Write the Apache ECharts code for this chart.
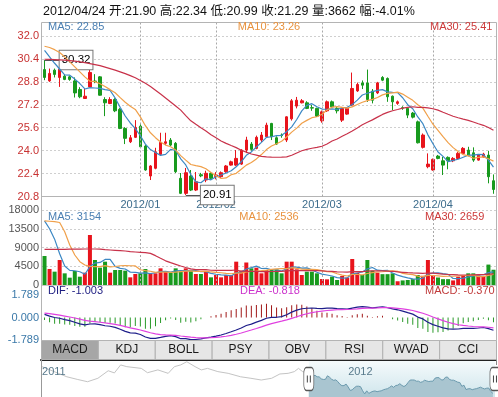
<!DOCTYPE html>
<html><head><meta charset="utf-8">
<script src="https://cdn.jsdelivr.net/npm/echarts@6/dist/echarts.min.js"></script>
<style>html,body{margin:0;padding:0;background:#fff}#c{width:498px;height:397px}</style>
</head><body><div id="c"></div>
<script>
// ---------------- data ----------------
const decDays = [6,7,8,9,12,13,14,15,16,19,20,21,22,23,26,27,28,29,30];
const janDays = [4,5,6,9,10,11,12,13,16,17,18,19,20,30,31];
const febDays = [1,2,3,6,7,8,9,10,13,14,15,16,17,20,21,22,23,24,27,28,29];
const marDays = [1,2,5,6,7,8,9,12,13,14,15,16,19,20,21,22,23,26,27,28,29,30];
const aprDays = [6,9,10,11,12,13,16,17,18,19,20,23,24];

// [open, close, low, high]
const ohlc = [
[29.66,29.11,28.92,30.32],[28.87,29.39,28.80,29.73],[29.62,29.32,29.11,29.73],[29.11,29.69,28.45,29.96],
[29.20,28.97,28.92,29.34],[29.15,28.97,28.88,29.23],[28.87,28.03,27.71,29.11],[28.27,27.76,27.66,28.43],
[27.64,27.80,27.63,28.36],[28.45,29.46,28.43,29.69],[28.86,28.82,28.71,29.34],[29.15,27.87,27.84,29.20],
[27.57,27.34,26.41,27.73],[27.29,27.57,27.25,27.73],[27.57,26.78,26.69,27.66],[26.88,25.55,25.50,26.97],
[25.55,24.86,24.46,25.64],[24.62,24.90,24.53,25.09],[24.93,25.62,24.88,26.13],[25.71,24.27,24.21,25.85],
[24.32,22.65,22.60,24.39],[22.23,22.93,21.95,22.99],[22.77,23.92,22.70,24.20],[23.74,24.58,23.70,25.25],
[24.51,24.62,24.39,25.25],[24.74,24.39,24.32,24.88],[24.51,22.53,22.44,24.60],[22.07,21.02,20.97,22.44],
[21.02,22.46,20.91,22.79],[22.23,21.25,21.18,22.65],[21.25,21.83,21.18,22.51],[22.32,22.24,22.15,22.45],
[21.95,22.42,21.80,22.60],[22.42,22.07,21.95,22.50],[22.20,22.30,22.00,22.50],[22.18,22.46,22.10,22.55],
[22.53,22.93,22.45,23.00],[22.99,23.22,22.95,23.30],[22.99,23.46,22.92,24.04],[23.06,24.04,23.00,24.10],
[24.04,24.74,23.83,24.97],[24.46,24.09,24.00,24.60],[24.16,24.93,24.10,25.05],[24.74,25.09,24.60,25.30],
[24.97,25.78,24.90,25.95],[25.90,24.97,24.74,25.94],[24.90,24.46,24.40,25.00],[25.09,25.05,24.90,25.20],
[24.74,26.36,24.60,26.40],[26.22,27.48,26.10,27.60],[27.11,27.52,26.95,27.75],[27.34,27.48,27.30,27.60],
[27.34,26.95,26.90,27.45],[27.00,26.97,26.78,27.20],[26.95,26.41,26.35,27.00],[26.08,26.71,25.95,26.80],
[26.78,27.41,26.70,27.50],[27.41,27.06,27.00,27.50],[26.95,26.78,26.60,27.05],[26.13,26.95,26.00,27.05],
[26.55,26.95,26.50,27.00],[27.18,28.34,27.10,29.45],[28.17,28.62,28.10,28.75],[28.73,28.57,28.30,28.90],
[28.73,27.57,27.40,29.66],[28.15,27.52,27.30,28.30],[28.03,28.73,27.95,28.80],[29.11,28.92,28.85,29.20],
[29.04,27.76,27.41,29.11],[27.80,27.41,26.83,27.85],[27.30,27.41,27.20,27.50],[26.99,26.97,26.85,27.10],
[26.95,26.48,26.27,27.00],[26.62,26.34,26.25,26.70],[26.01,24.55,24.50,26.10],[24.23,25.09,24.15,25.20],
[22.88,23.06,22.77,23.81],[22.65,23.39,22.60,23.45],[23.62,23.46,23.40,23.70],[23.29,22.99,22.30,23.57],
[23.53,23.29,22.70,23.60],[23.29,23.46,23.20,23.55],[23.46,23.81,23.40,23.90],[23.81,24.16,23.75,24.25],
[24.04,23.69,23.60,24.27],[23.85,23.34,23.22,24.23],[23.34,23.69,23.30,23.75],[23.57,23.76,23.50,23.85],
[23.69,22.18,21.72,23.99],[21.90,21.29,20.99,22.34]
];

const volumes = [
6960,3840,3200,6000,2800,1760,3360,2000,2960,12000,
6000,4160,5600,2960,3600,3600,3440,1840,2640,2800,
3840,2640,2800,4000,3200,2960,4000,3200,4000,3440,
2640,2640,3360,1840,2400,1840,2400,2400,5600,3440,
5400,4000,4160,2800,3600,3760,3760,2800,5600,5600,
3760,2400,3200,3200,2800,1440,1360,2000,1200,2160,
1800,6240,2960,2400,6000,3440,2960,2600,2600,2800,
900,1100,1200,1400,2400,2200,6000,2160,1800,1400,
1400,1100,2000,2300,2800,2800,2300,2100,4900,3662
];

// moving-average values before enough visible history exists
const ma5Head  = [31.00,30.55,30.10,29.70];
const ma10Head = [31.29,31.20,31.05,30.85,30.55,30.20,29.85,29.50,29.15];
const ma30Head = [30.38,30.37,30.36,30.34,30.32,30.29,30.25,30.20,30.14,30.08,30.01,29.93,29.83,29.73,29.62,
                  29.50,29.38,29.24,29.09,28.90,28.70,28.48,28.22,27.95,27.68,27.40,27.12,26.83,26.45];
const volMa5Head  = [15400,13500,11000,7500];
const volMa10Head = [15400,15300,15200,15000,12800,9600,7200,5600,4800];
const volMa30Head = [8560,8560,8560,8560,8560,8600,8600,8600,8640,8640,8640,8600,8480,8400,8320,
                     8240,8160,8000,7920,7840,7760,7600,7040,6400,5800,5360,4960,4560,4200];
// EMA state just before the first visible day
const macdSeed = {ema12: 31.20, ema26: 30.75, dea: 0.38};

// overview strip (earlier history): day index, close
const overviewPriorDays   = [0,12,17,22,27,32,35,38,41,48,51,56,61,64,67,70,74,77,80,85,90,96,101,106,111,115,119,122,124,126,128];
const overviewPriorValues = [33.7,29.0,27.8,26.7,28.3,31.8,30.8,34.5,33.7,32.9,30.9,32.2,30.6,33.7,34.5,36.0,33.7,32.2,32.9,31.4,30.6,29.0,28.3,27.5,28.3,30.3,30.6,31.4,32.9,31.4,30.8];
const overviewLength = 220;
const overviewWindowStart = 129;
const overviewYearLabels = ['2011','2012'];

const headerText = '2012/04/24 开:21.90 高:22.34 低:20.99 收:21.29 量:3662 幅:-4.01%';
const priceLegend = ['MA5: 22.85','MA10: 23.26','MA30: 25.41'];
const volLegend   = ['MA5: 3154','MA10: 2536','MA30: 2659'];
const macdLegend  = ['DIF: -1.003','DEA: -0.818','MACD: -0.370'];
const tabNames = ['MACD','KDJ','BOLL','PSY','OBV','RSI','WVAD','CCI'];
const priceHighIdx = 0, priceHighValue = 30.32;
const priceLowIdx = 28, priceLowValue = 20.91;
const macdLimit = 1.789;

// ---------------- derived ----------------
const dates = [];
const monthStartIdx = [];
[['2011/12',decDays],['2012/01',janDays],['2012/02',febDays],['2012/03',marDays],['2012/04',aprDays]].forEach(([m,days],k)=>{
  if (k>0) monthStartIdx.push(dates.length);
  days.forEach(d=>dates.push(m+'/'+String(d).padStart(2,'0')));
});
const closes = ohlc.map(r=>r[1]);
function movingAvg(vals, n, head, dec){
  return vals.map((v,i)=>{
    if (i < n-1) return head[i];
    let s=0; for(let j=i-n+1;j<=i;j++) s+=vals[j];
    return +(s/n).toFixed(dec);
  });
}
const ma5 = movingAvg(closes,5,ma5Head,3), ma10 = movingAvg(closes,10,ma10Head,3), ma30 = movingAvg(closes,30,ma30Head,3);
const vma5 = movingAvg(volumes,5,volMa5Head,0), vma10 = movingAvg(volumes,10,volMa10Head,0), vma30 = movingAvg(volumes,30,volMa30Head,0);
let e12 = macdSeed.ema12, e26 = macdSeed.ema26, dea = macdSeed.dea;
const difArr=[], deaArr=[], histArr=[];
closes.forEach(c=>{
  e12 += (2/13)*(c-e12); e26 += (2/27)*(c-e26);
  const dif = e12-e26; dea += 0.2*(dif-dea);
  difArr.push(+dif.toFixed(4)); deaArr.push(+dea.toFixed(4)); histArr.push(+(2*(dif-dea)).toFixed(4));
});
const isUp = ohlc.map(r=>r[1]>=r[0]);
const UP='#e8141c', DOWN='#189a1e';

const ovCats = []; for(let i=0;i<overviewLength;i++) ovCats.push(String(i));
const ovPrior = new Array(overviewLength).fill(null);
overviewPriorDays.forEach((d,k)=>ovPrior[d]=overviewPriorValues[k]);
ovPrior[overviewWindowStart] = closes[0];
const ovSel = new Array(overviewLength).fill(null);
closes.forEach((c,i)=>ovSel[overviewWindowStart+i]=c);
const ovYearIdx = [0, overviewWindowStart + monthStartIdx[0]];

const FONT = '"Liberation Sans", Arial, "Noto Sans CJK SC", sans-serif';
const vlines = monthStartIdx.map(i=>({xAxis: dates[i], lineStyle:{type:[2,2], color:'#a8a8a8', width:1}}));

// ---------------- chart ----------------
const chart = echarts.init(document.getElementById('c'), null, {renderer:'canvas', width:498, height:397});
const lineS = (name, data, color, xi) => ({name, type:'line', xAxisIndex:xi, yAxisIndex:xi, data, showSymbol:false, symbol:'none',
  lineStyle:{color, width:1.2}, z:5, silent:true});

const tabW = 455/tabNames.length;
const graphic = [
  {type:'text', x:43, y:12, style:{text:headerText, font:'12.5px '+FONT, fill:'#111', verticalAlign:'middle'}},
  {type:'rect', shape:{x:41.5,y:22.5,width:455,height:318}, style:{fill:'none', stroke:'#b4b4b4', lineWidth:1}, z:50, silent:true},
  {type:'text', x:48, y:27, style:{text:priceLegend[0], font:'11px '+FONT, fill:'#4a7fb2', verticalAlign:'middle'}, z:60},
  {type:'text', x:269, y:27, style:{text:priceLegend[1], font:'11px '+FONT, fill:'#e8923e', align:'center', verticalAlign:'middle'}, z:60},
  {type:'text', x:430, y:27, style:{text:priceLegend[2], font:'11px '+FONT, fill:'#cc3a3a', verticalAlign:'middle'}, z:60},
  {type:'text', x:48, y:217, style:{text:volLegend[0], font:'11px '+FONT, fill:'#4a7fb2', verticalAlign:'middle'}, z:60},
  {type:'text', x:269, y:217, style:{text:volLegend[1], font:'11px '+FONT, fill:'#e8923e', align:'center', verticalAlign:'middle'}, z:60},
  {type:'text', x:425, y:217, style:{text:volLegend[2], font:'11px '+FONT, fill:'#cc3a3a', verticalAlign:'middle'}, z:60},
  {type:'text', x:48, y:291, style:{text:macdLegend[0], font:'11px '+FONT, fill:'#1c1c80', verticalAlign:'middle'}, z:60},
  {type:'text', x:240, y:291, style:{text:macdLegend[1], font:'11px '+FONT, fill:'#cc33cc', verticalAlign:'middle'}, z:60},
  {type:'text', x:425, y:291, style:{text:macdLegend[2], font:'11px '+FONT, fill:'#c03a3a', verticalAlign:'middle'}, z:60},
  {type:'line', shape:{x1:41.5,y1:360,x2:41.5,y2:397}, style:{stroke:'#999', lineWidth:1}, z:50}
];
tabNames.forEach((t,i)=>{
  graphic.push({type:'rect', shape:{x:41.5+i*tabW, y:340.5, width:tabW, height:19}, style:{fill: i===0?'#a6a6a6':'#e6e6e6', stroke:'#b0b0b0', lineWidth:1}, z:40});
  graphic.push({type:'text', x:41.5+i*tabW+tabW/2, y:350, style:{text:t, font:'12px '+FONT, fill:'#1a1a1a', align:'center', verticalAlign:'middle'}, z:41});
});

const option = {
  animation:false,
  backgroundColor:'#fff',
  textStyle:{fontFamily:FONT},
  grid:[
    {left:42, right:2, top:22, height:174.5, outerBoundsMode:'none'},
    {left:42, right:2, top:210, height:75, outerBoundsMode:'none'},
    {left:42, right:2, top:295, height:45, outerBoundsMode:'none'},
    {left:41, right:2, top:360, height:37, outerBoundsMode:'none'}
  ],
  xAxis:[
    {type:'category', gridIndex:0, data:dates, boundaryGap:true,
     axisLine:{lineStyle:{color:'#b4b4b4'}}, axisTick:{show:false}, splitLine:{show:false},
     axisLabel:{interval:(i)=>monthStartIdx.includes(i), formatter:(v)=>v.slice(0,7), color:'#3c6c8c', fontSize:11, margin:3}},
    {type:'category', gridIndex:1, data:dates, boundaryGap:true,
     axisLine:{lineStyle:{color:'#c8c8c8'}}, axisTick:{show:false}, axisLabel:{show:false}, splitLine:{show:false}},
    {type:'category', gridIndex:2, data:dates, boundaryGap:true,
     axisLine:{show:false}, axisTick:{show:false}, axisLabel:{show:false}, splitLine:{show:false}},
    {type:'category', gridIndex:3, data:ovCats, boundaryGap:true, position:'top', z:20,
     axisLine:{lineStyle:{color:'#222', width:2}},
     axisTick:{show:true, inside:true, length:5, interval:(i)=>i===ovYearIdx[1], lineStyle:{color:'#888'}},
     axisLabel:{show:true, inside:true, interval:(i)=>ovYearIdx.includes(i), align:'left', margin:6,
       formatter:(v)=>overviewYearLabels[ovYearIdx.indexOf(+v)], color:'#587a8c', fontSize:11},
     splitLine:{show:false}}
  ],
  yAxis:[
    {type:'value', gridIndex:0, min:20.8, max:32.98, interval:1.6, axisLine:{show:false}, axisTick:{show:false},
     axisLabel:{color:'#c83232', fontSize:11, margin:3, showMaxLabel:false, formatter:(v)=>v.toFixed(1)},
     splitLine:{lineStyle:{type:[2,2], color:'#cfcfcf'}}},
    {type:'value', gridIndex:1, min:0, max:18000, interval:4500, axisLine:{show:false}, axisTick:{show:false},
     axisLabel:{color:'#555', fontSize:11, margin:3, formatter:(v)=>String(Math.round(v))},
     splitLine:{lineStyle:{type:[2,2], color:'#cfcfcf'}}},
    {type:'value', gridIndex:2, min:-macdLimit, max:macdLimit, interval:macdLimit, axisLine:{show:false}, axisTick:{show:false},
     axisLabel:{color:'#3a78a8', fontSize:11, margin:3, formatter:(v)=>(Math.abs(v)<1e-9?0:v).toFixed(3)},
     splitLine:{show:false}},
    {type:'value', gridIndex:3, min:19.6, max:36.8, show:false}
  ],
  series:[
    {type:'candlestick', xAxisIndex:0, yAxisIndex:0, data:ohlc, barWidth:3, z:3,
     itemStyle:{color:UP, color0:DOWN, borderColor:UP, borderColor0:DOWN, borderWidth:1},
     markLine:{symbol:['none','none'], silent:true, animation:false, label:{show:false},
       data:[...vlines,
         [{coord:[dates[priceHighIdx], priceHighValue]},{coord:[dates[priceHighIdx+3], priceHighValue]}],
         [{coord:[dates[priceLowIdx], priceLowValue]},{coord:[dates[priceLowIdx+3], priceLowValue]}]
       ].map(d=>Array.isArray(d)? d.map(p=>Object.assign(p,{lineStyle:{type:'solid',color:'#555',width:1}})) : d)},
     markPoint:{symbol:'circle', symbolSize:0.01, silent:true, animation:false, itemStyle:{color:'rgba(0,0,0,0)'},
       label:{show:true, position:'right', distance:0, color:'#000', fontSize:11.5, fontFamily:FONT,
              backgroundColor:'#fff', borderColor:'#777', borderWidth:1, padding:[4,2,3,2],
              formatter:(p)=>Number(p.value).toFixed(2)},
       data:[{coord:[dates[priceHighIdx+3], priceHighValue], value:priceHighValue},
             {coord:[dates[priceLowIdx+3], priceLowValue], value:priceLowValue}]}},
    lineS('MA5', ma5, '#3c88c4', 0),
    lineS('MA10', ma10, '#f0a04a', 0),
    lineS('MA30', ma30, '#c8324a', 0),
    {type:'bar', xAxisIndex:1, yAxisIndex:1, barWidth:4, z:3,
     data:volumes.map((v,i)=>({value:v, itemStyle:{color:isUp[i]?UP:DOWN}})),
     markLine:{symbol:['none','none'], silent:true, label:{show:false}, data:vlines}},
    lineS('VMA5', vma5, '#3c88c4', 1),
    lineS('VMA10', vma10, '#f0a04a', 1),
    lineS('VMA30', vma30, '#c8324a', 1),
    {type:'bar', xAxisIndex:2, yAxisIndex:2, barWidth:1, z:3,
     data:histArr.map(v=>({value:v, itemStyle:{color: v>=0?'#a01818':'#2a9a2a'}}))},
    lineS('DIF', difArr, '#1e1e8a', 2),
    lineS('DEA', deaArr, '#e040e0', 2),
    {type:'line', xAxisIndex:3, yAxisIndex:3, data:ovPrior, connectNulls:true, symbol:'none', silent:true,
     lineStyle:{color:'#c4c4c4', width:1}, z:2},
    {type:'line', xAxisIndex:3, yAxisIndex:3, data:ovSel, connectNulls:false, symbol:'none', silent:true,
     lineStyle:{color:'#6b9aae', width:1}, areaStyle:{color:'#a9c5d0', opacity:1, origin:'start'}, z:3,
     markArea:{silent:true, itemStyle:{color:{type:'linear',x:0,y:0,x2:0,y2:1,colorStops:[{offset:0,color:'#f6fbfc'},{offset:1,color:'#cfe5ec'}]}},
       data:[[{xAxis:String(overviewWindowStart)},{xAxis:String(overviewLength-1)}]]},
     markPoint:{silent:true, animation:false, label:{show:false},
       data:[
         {coord:[String(overviewWindowStart),28], symbol:'roundRect', symbolSize:[10,23], itemStyle:{color:'#fff', borderColor:'#555', borderWidth:1}},
         {coord:[String(overviewLength-1),28], symbol:'roundRect', symbolSize:[10,23], itemStyle:{color:'#fff', borderColor:'#555', borderWidth:1}},
         {coord:[String(overviewWindowStart),28], symbol:'path://M0,0h1v10h-1zM3,0h1v10h-1z', symbolSize:[4,7], itemStyle:{color:'#444'}},
         {coord:[String(overviewLength-1),28], symbol:'path://M0,0h1v10h-1zM3,0h1v10h-1z', symbolSize:[4,7], itemStyle:{color:'#444'}}
       ]}}
  ],
  graphic
};
chart.setOption(option);
</script>
</body></html>
